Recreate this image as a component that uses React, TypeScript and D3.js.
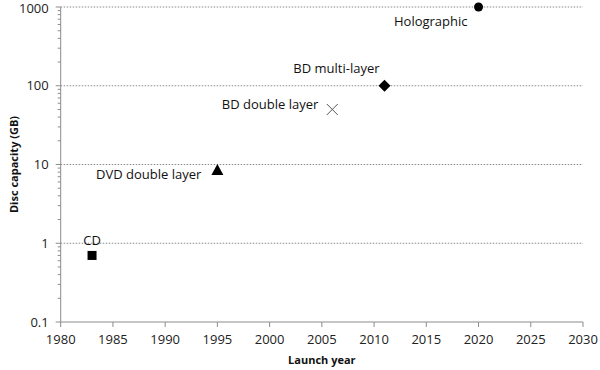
import React from "react";
import * as d3 from "d3";

const discNames = ["CD", "DVD double layer", "BD double layer", "BD multi-layer", "Holographic"];
const launchYears = [1983, 1995, 2006, 2011, 2020];
const capacitiesGB = [0.7, 8.5, 50, 100, 1000];
const markerShapes = ["square", "triangle", "cross", "diamond", "circle"];
const xTicks = [1980, 1985, 1990, 1995, 2000, 2005, 2010, 2015, 2020, 2025, 2030];
const yTicks = [0.1, 1, 10, 100, 1000];
const yTickLabels = ["0.1", "1", "10", "100", "1000"];

// label layout (styling, not data)
const labelLayout = [
  { anchor: "middle", dx: 0, dy: -15 },
  { anchor: "end", dx: -16, dy: 4 },
  { anchor: "end", dx: -14, dy: -5 },
  { anchor: "end", dx: -5, dy: -17 },
  { anchor: "end", dx: -11, dy: 14 },
];

const W = 600, H = 370;
const left = 60.7, right = 583, top = 7, bottom = 322;

export default function App() {
  const x = d3.scaleLinear().domain([1980, 2030]).range([left, right]);
  const y = d3.scaleLog().domain([0.1, 1000]).range([bottom, top]);
  const font = "'Open Sans', 'Liberation Sans', sans-serif";
  const axisColor = "#8c8c8c";

  const minor: number[] = [];
  for (let d = 0.1; d < 1000; d *= 10) {
    for (let k = 2; k <= 9; k++) minor.push(d * k);
  }

  const marker = (shape: string, cx: number, cy: number, i: number) => {
    if (shape === "square") return <rect key={i} x={cx - 4.5} y={cy - 4.5} width={9} height={9} fill="#000" />;
    if (shape === "triangle") {
      const p = d3.path();
      p.moveTo(cx, cy - 6); p.lineTo(cx + 6, cy + 5); p.lineTo(cx - 6, cy + 5); p.closePath();
      return <path key={i} d={p.toString()} fill="#000" />;
    }
    if (shape === "cross")
      return (
        <g key={i} stroke="#555" strokeWidth={1}>
          <line x1={cx - 5.5} y1={cy - 5.5} x2={cx + 5.5} y2={cy + 5.5} />
          <line x1={cx - 5.5} y1={cy + 5.5} x2={cx + 5.5} y2={cy - 5.5} />
        </g>
      );
    if (shape === "diamond") {
      const p = d3.path();
      p.moveTo(cx, cy - 6); p.lineTo(cx + 6, cy); p.lineTo(cx, cy + 6); p.lineTo(cx - 6, cy); p.closePath();
      return <path key={i} d={p.toString()} fill="#000" />;
    }
    return <circle key={i} cx={cx} cy={cy} r={4.5} fill="#000" />;
  };

  return (
    <svg width={W} height={H} style={{ position: "absolute", left: 0, top: 0, background: "#fff" }}>
      {yTicks.slice(1).map((t) => (
        <line key={"g" + t} x1={left} x2={right} y1={y(t)} y2={y(t)} stroke="#8a8a8a" strokeWidth={1} strokeDasharray="1.5,1.5" />
      ))}
      <line x1={left} x2={left} y1={top} y2={bottom} stroke={axisColor} />
      {yTicks.map((t) => (
        <line key={"yt" + t} x1={left - 5} x2={left} y1={y(t)} y2={y(t)} stroke={axisColor} />
      ))}
      {minor.map((t, i) => (
        <line key={"ym" + i} x1={left - 3} x2={left} y1={y(t)} y2={y(t)} stroke={axisColor} />
      ))}
      {yTicks.map((t, i) => (
        <text key={"yl" + t} x={left - 12} y={Math.max(y(t), 8)} dy="0.35em" textAnchor="end" fontFamily={font} fontSize={13} fill="#222">
          {yTickLabels[i]}
        </text>
      ))}
      <line x1={left} x2={right} y1={bottom} y2={bottom} stroke={axisColor} />
      {xTicks.map((t) => (
        <g key={"xt" + t}>
          <line x1={x(t)} x2={x(t)} y1={bottom} y2={bottom + 5} stroke={axisColor} />
          <text x={x(t)} y={bottom + 17} dy="0.35em" textAnchor="middle" fontFamily={font} fontSize={13} fill="#222">
            {t}
          </text>
        </g>
      ))}
      <text x={(left + right) / 2} y={360} dy="0.35em" textAnchor="middle" fontFamily={font} fontSize={11} fontWeight="bold" fill="#111">
        Launch year
      </text>
      <text transform={`translate(14,${(top + bottom) / 2}) rotate(-90)`} dy="0.35em" textAnchor="middle" fontFamily={font} fontSize={11} fontWeight="bold" fill="#111">
        Disc capacity (GB)
      </text>
      {launchYears.map((yr, i) => marker(markerShapes[i], x(yr), y(capacitiesGB[i]), i))}
      {launchYears.map((yr, i) => (
        <text
          key={"lab" + i}
          x={x(yr) + labelLayout[i].dx}
          y={y(capacitiesGB[i]) + labelLayout[i].dy}
          dy="0.35em"
          textAnchor={labelLayout[i].anchor as any}
          fontFamily={font}
          fontSize={13}
          fill="#111"
        >
          {discNames[i]}
        </text>
      ))}
    </svg>
  );
}
